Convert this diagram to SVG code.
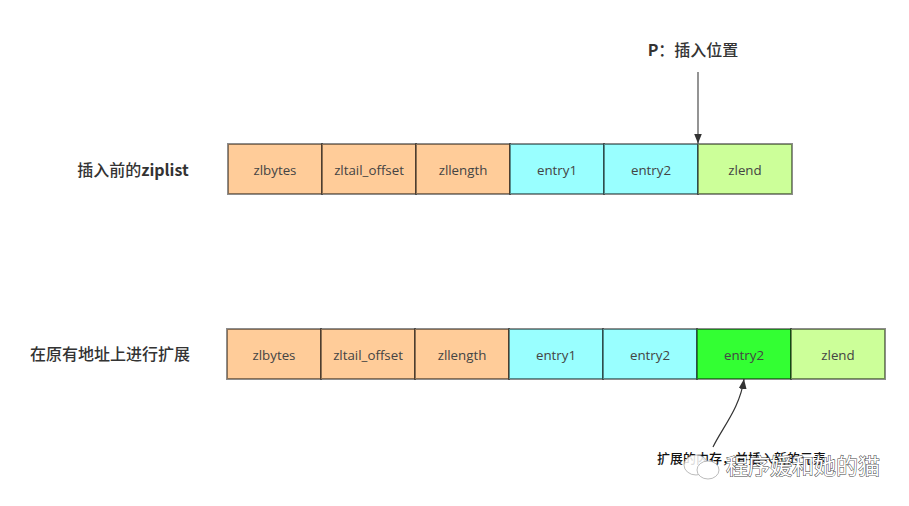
<svg xmlns="http://www.w3.org/2000/svg" width="909" height="506" viewBox="0 0 909 506">
<style>
text{font-family:"Open Sans","Noto Sans CJK SC",sans-serif;fill:#444;text-anchor:middle}
.c{font-size:13.3px}
.t{font-family:"Noto Sans CJK SC",sans-serif;font-size:16px;font-weight:500;fill:#333}
.l{font-weight:700}
.o{fill:#ffcc99}.b{fill:#99ffff}.g{fill:#ccff99}.d{fill:#33ff33}
rect{stroke:#000;stroke-opacity:.45;stroke-width:2}
</style>
<defs><marker id="a" markerWidth="12" markerHeight="10" refX="10" refY="4" orient="auto" markerUnits="userSpaceOnUse"><path d="M0 0L10 4L0 8z" fill="#333"/></marker></defs>
<rect width="909" height="506" fill="#fff" style="stroke:none"/>
<text id="label-before" class="t" x="133" y="176">插入前的<tspan class="l">ziplist</tspan></text>
<text id="label-after" class="t" x="110" y="360">在原有地址上进行扩展</text>
<text id="label-p" class="t" x="693" y="56"><tspan class="l">P</tspan>：插入位置</text>
<g id="row1-zlbytes"><rect class="o" x="228" y="144" width="94" height="50"/><text class="c" x="275" y="175">zlbytes</text></g>
<g id="row1-zltail"><rect class="o" x="322" y="144" width="94" height="50"/><text class="c" x="369" y="175">zltail_offset</text></g>
<g id="row1-zllength"><rect class="o" x="416" y="144" width="94" height="50"/><text class="c" x="463" y="175">zllength</text></g>
<g id="row1-entry1"><rect class="b" x="510" y="144" width="94" height="50"/><text class="c" x="557" y="175">entry1</text></g>
<g id="row1-entry2"><rect class="b" x="604" y="144" width="94" height="50"/><text class="c" x="651" y="175">entry2</text></g>
<g id="row1-zlend"><rect class="g" x="698" y="144" width="94" height="50"/><text class="c" x="745" y="175">zlend</text></g>
<g id="row2-zlbytes"><rect class="o" x="227" y="329" width="94" height="50"/><text class="c" x="274" y="360">zlbytes</text></g>
<g id="row2-zltail"><rect class="o" x="321" y="329" width="94" height="50"/><text class="c" x="368" y="360">zltail_offset</text></g>
<g id="row2-zllength"><rect class="o" x="415" y="329" width="94" height="50"/><text class="c" x="462" y="360">zllength</text></g>
<g id="row2-entry1"><rect class="b" x="509" y="329" width="94" height="50"/><text class="c" x="556" y="360">entry1</text></g>
<g id="row2-entry2"><rect class="b" x="603" y="329" width="94" height="50"/><text class="c" x="650" y="360">entry2</text></g>
<g id="row2-entry2new"><rect class="d" x="697" y="329" width="94" height="50"/><text class="c" x="744" y="360">entry2</text></g>
<g id="row2-zlend"><rect class="g" x="791" y="329" width="94" height="50"/><text class="c" x="838" y="360">zlend</text></g>
<g id="connectors" fill="none">
<path d="M698 72V143.500" stroke="#888" stroke-width="1.800" marker-end="url(#a)"/>
<path d="M713 447C722 428 740 408 744 379" stroke="#333" stroke-width="1.200" marker-end="url(#a)"/>
</g>
<text id="label-expand" x="741.500" y="463" style="font-family:'Noto Sans CJK SC',sans-serif;font-size:13px;font-weight:500;fill:#111">扩展的内存，并插入新的元素</text>
<g id="watermark">
<g fill="#fff" stroke="#aaa" stroke-width=".8"><ellipse cx="696" cy="465" rx="12" ry="10" fill-opacity=".85"/><ellipse cx="708" cy="470" rx="11" ry="9"/></g>
<text x="803" y="474" style="font-family:'Noto Sans CJK SC',sans-serif;font-size:22px;fill:#fff;stroke:#444;stroke-width:1;paint-order:stroke">程序媛和她的猫</text>
</g>
</svg>
